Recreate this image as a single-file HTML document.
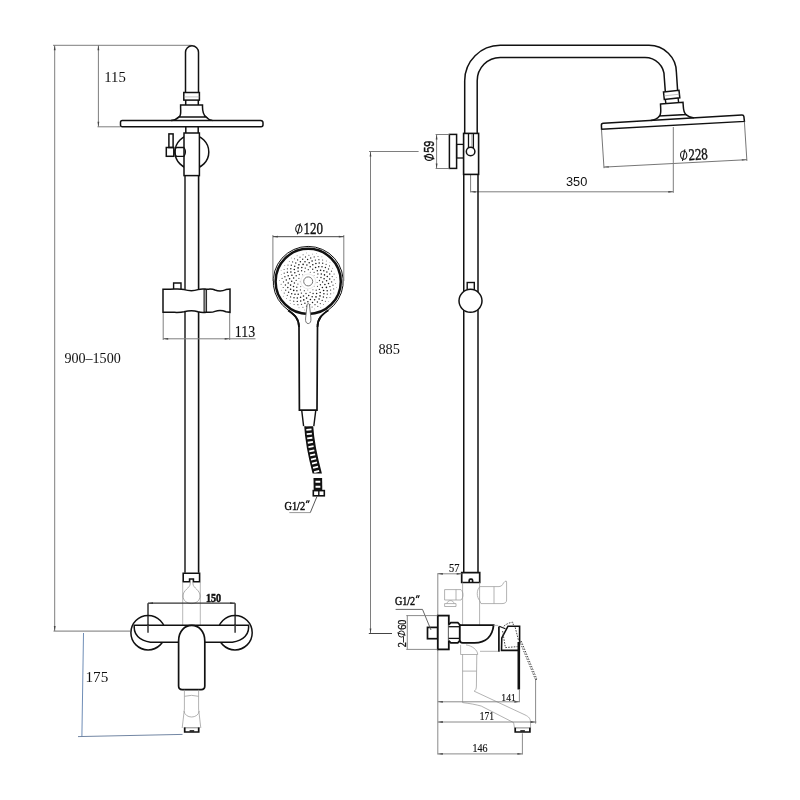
<!DOCTYPE html>
<html><head><meta charset="utf-8"><title>Shower column drawing</title>
<style>
html,body{margin:0;padding:0;background:#fff;}
body{width:800px;height:800px;overflow:hidden;font-family:"Liberation Serif",serif;}
svg{display:block;}
svg text{filter:grayscale(1);}
</style></head>
<body>
<svg width="800" height="800" viewBox="0 0 800 800" stroke-linecap="butt" stroke-linejoin="miter">
<rect x="0" y="0" width="800" height="800" fill="#fff"/>
<line x1="53" y1="45.3" x2="191.5" y2="45.3" stroke="#7e7e7e" stroke-width="1" />
<line x1="54.7" y1="45.3" x2="54.7" y2="631" stroke="#7e7e7e" stroke-width="1" />
<path d="M54.70,45.30 L55.60,50.30 L53.80,50.30 Z" fill="#444" stroke="none"/>
<path d="M54.70,631.00 L53.80,626.00 L55.60,626.00 Z" fill="#444" stroke="none"/>
<line x1="98.4" y1="45.3" x2="98.4" y2="126.8" stroke="#7e7e7e" stroke-width="1" />
<path d="M98.40,45.30 L99.30,50.30 L97.50,50.30 Z" fill="#444" stroke="none"/>
<path d="M98.40,126.80 L97.50,121.80 L99.30,121.80 Z" fill="#444" stroke="none"/>
<line x1="97.5" y1="126.8" x2="120.5" y2="126.8" stroke="#7e7e7e" stroke-width="1" />
<line x1="53.5" y1="631.1" x2="130.2" y2="631.1" stroke="#666" stroke-width="0.9" />
<path d="M185.5,92.5 V52.3 A6.5,6.5 0 0 1 198.5,52.3 V92.5" stroke="#111" stroke-width="1.5" fill="none" />
<rect x="183.8" y="92.5" width="15.6" height="7.6" stroke="#111" stroke-width="1.5" fill="none" />
<line x1="183.8" y1="96.9" x2="199.4" y2="96.9" stroke="#999" stroke-width="0.6" />
<path d="M185.7,100.1 V105 M198.3,100.1 V105" stroke="#111" stroke-width="1.5" fill="none" />
<path d="M180.6,105 H202.5 V107 C202.5,112 203.6,115 206,116.9 H179.1 C181.5,115 180.6,112 180.6,107 Z" stroke="#111" stroke-width="1.5" fill="none" />
<path d="M179.1,116.9 C177,119 175,120.3 171,120.5 M206,116.9 C208,119 210,120.3 212.4,120.5" stroke="#111" stroke-width="1.5" fill="none" />
<path d="M122.3,120.5 H260.8 A2.2,2.2 0 0 1 263,122.7 V124.8 A2,2 0 0 1 261,126.8 H122.3 A1.8,1.8 0 0 1 120.5,125 V122.3 A1.8,1.8 0 0 1 122.3,120.5 Z" stroke="#111" stroke-width="1.5" fill="none" />
<path d="M185.8,126.8 V133 M198.2,126.8 V133" stroke="#111" stroke-width="1.5" fill="none" />
<circle cx="191.9" cy="151.9" r="16.9" stroke="#111" stroke-width="1.5" fill="none" />
<rect x="184" y="133" width="15.4" height="42.6" stroke="#111" stroke-width="1.5" fill="#fff" />
<rect x="168.9" y="133.9" width="4.2" height="13.6" stroke="#111" stroke-width="1.5" fill="none" />
<rect x="166.3" y="147.5" width="7.5" height="8.8" stroke="#111" stroke-width="1.5" fill="none" />
<path d="M176.2,147.5 H184 M176.2,156.3 H184 M176.2,147.5 C174.6,150 174.6,153.8 176.2,156.3 M184,147.5 C185.6,150 185.6,153.8 184,156.3" stroke="#111" stroke-width="1.3" fill="none" />
<line x1="185.0" y1="175.6" x2="185.0" y2="572.8" stroke="#111" stroke-width="1.4" />
<line x1="198.6" y1="175.6" x2="198.6" y2="572.8" stroke="#111" stroke-width="1.6" />
<path d="M163,289.2 H170 C176,289.2 180,288.6 184,289.6 C189,291 194,291 198,289.6 C202,288.4 204,289 206.5,289.2 C210,289.2 212,288.6 215,290 C219,291.6 223,291 226,289.6 L230,289 V312.3 L226,311.8 C223,310.4 219,309.8 215,311.4 C212,312.8 210,312.2 206.5,312.3 C204,312.4 202,313 198,311.8 C194,310.4 189,310.4 184,311.8 C180,312.8 176,312.3 170,312.3 H163 Z" stroke="#111" stroke-width="1.5" fill="#fff" />
<rect x="204" y="289.6" width="2.6" height="22.4" stroke="#111" stroke-width="0.9" fill="#999" />
<path d="M173.6,289 V283 H181 V289" stroke="#111" stroke-width="1.4" fill="none" />
<line x1="163.2" y1="313" x2="163.2" y2="340" stroke="#7e7e7e" stroke-width="1" />
<line x1="229.7" y1="313" x2="229.7" y2="340" stroke="#7e7e7e" stroke-width="1" />
<line x1="163.2" y1="338.8" x2="255.5" y2="338.8" stroke="#7e7e7e" stroke-width="1" />
<path d="M163.20,338.80 L168.20,337.90 L168.20,339.70 Z" fill="#444" stroke="none"/>
<path d="M229.70,338.80 L224.70,339.70 L224.70,337.90 Z" fill="#444" stroke="none"/>
<path d="M183.2,573.2 H199.6 V581.7 H193.4 V579 H189.6 V581.7 H183.2 Z" stroke="#111" stroke-width="1.6" fill="none" />
<line x1="182.7" y1="582" x2="182.7" y2="625.6" stroke="#9a9a9a" stroke-width="0.7" />
<line x1="200.3" y1="582" x2="200.3" y2="625.6" stroke="#9a9a9a" stroke-width="0.7" />
<path d="M190.2,582 V584 C190,588 183,590 183,596 C183,600.5 187,603.6 191.5,603.6 C196,603.6 200.1,600.5 200.1,596 C200.1,590 193.2,588 193,584 V582" stroke="#8a8a8a" stroke-width="0.7" fill="none" />
<line x1="148" y1="603.2" x2="235.1" y2="603.2" stroke="#333" stroke-width="1.3" />
<line x1="148" y1="603.2" x2="148" y2="632.8" stroke="#333" stroke-width="1.5" />
<line x1="235.1" y1="603.2" x2="235.1" y2="632.8" stroke="#333" stroke-width="1.5" />
<path d="M148.00,603.20 L153.00,602.30 L153.00,604.10 Z" fill="#333" stroke="none"/>
<path d="M235.10,603.20 L230.10,604.10 L230.10,602.30 Z" fill="#333" stroke="none"/>
<circle cx="148.1" cy="632.7" r="17.2" stroke="#111" stroke-width="1.5" fill="none" />
<circle cx="235.0" cy="632.7" r="17.2" stroke="#111" stroke-width="1.5" fill="none" />
<path d="M134.2,625.25 H248.6 V627.5 C248.6,636.5 240,642.3 228,642.3 H154.8 C142.8,642.3 134.2,636.5 134.2,627.5 Z" stroke="#111" stroke-width="1.5" fill="#fff" />
<line x1="148" y1="624" x2="148" y2="632.8" stroke="#333" stroke-width="1.5" />
<line x1="235.1" y1="624" x2="235.1" y2="632.8" stroke="#333" stroke-width="1.5" />
<path d="M178.6,641 C178.6,620.2 204.8,620.2 204.8,641 V686 Q204.8,689.6 201.2,689.6 H182.2 Q178.6,689.6 178.6,686 Z" stroke="#111" stroke-width="1.7" fill="#fff" />
<path d="M184.4,689.8 V709 L182.2,728 M198.6,689.8 V709 L200.8,728" stroke="#9a9a9a" stroke-width="0.75" fill="none" />
<path d="M184.6,696.3 Q191.5,694.4 198.5,696.3 M184,711 C185,719 198.2,719 199.2,711" stroke="#9a9a9a" stroke-width="0.75" fill="none" />
<line x1="183.8" y1="727.8" x2="199.8" y2="727.8" stroke="#666" stroke-width="0.8" />
<path d="M184.7,727.6 V732 H198.7 V727.6" stroke="#111" stroke-width="1.7" fill="none" />
<rect x="189.6" y="730.2" width="4.6" height="1.4" stroke="none" stroke-width="0" fill="#111" />
<line x1="83.5" y1="633" x2="81.9" y2="736.5" stroke="#6787b2" stroke-width="0.95" />
<line x1="78" y1="736.6" x2="182.5" y2="734.4" stroke="#6a7f9e" stroke-width="0.95" />
<path d="M288.2,310.2 C294,314.6 299,318 299,327 L299.4,410.2 H317 L317.5,327 C317.5,318 322.4,314.6 328.2,310.2" stroke="#111" stroke-width="1.7" fill="#fff" />
<circle cx="308.2" cy="281.4" r="34.6" stroke="none" stroke-width="0" fill="#fff" />
<path d="M288.3,310.2 A35,35 0 1 1 328.1,310.2" stroke="#111" stroke-width="1.0" fill="none" />
<path d="M288.2,310.2 C294,314.6 299,318 299,327 M317.5,327 C317.5,318 322.4,314.6 328.2,310.2" stroke="#111" stroke-width="1.7" fill="none" />
<circle cx="308.2" cy="281.4" r="32.6" stroke="#111" stroke-width="2.5" fill="none" />
<g fill="#151515" stroke="none"><circle cx="314.2" cy="286.4" r="0.40" fill-opacity="0.70"/><circle cx="300.2" cy="281.7" r="0.44" fill-opacity="0.71"/><circle cx="314.1" cy="275.6" r="0.46" fill-opacity="0.72"/><circle cx="307.8" cy="289.9" r="0.48" fill-opacity="0.73"/><circle cx="302.6" cy="274.7" r="0.50" fill-opacity="0.74"/><circle cx="317.1" cy="282.6" r="0.51" fill-opacity="0.75"/><circle cx="300.7" cy="286.6" r="0.53" fill-opacity="0.76"/><circle cx="310.3" cy="272.3" r="0.54" fill-opacity="0.77"/><circle cx="312.9" cy="289.7" r="0.55" fill-opacity="0.78"/><circle cx="298.9" cy="278.4" r="0.56" fill-opacity="0.79"/><circle cx="317.2" cy="277.2" r="0.57" fill-opacity="0.80"/><circle cx="304.3" cy="290.7" r="0.58" fill-opacity="0.81"/><circle cx="304.7" cy="271.7" r="0.59" fill-opacity="0.81"/><circle cx="317.5" cy="286.3" r="0.60" fill-opacity="0.82"/><circle cx="297.9" cy="284.1" r="0.61" fill-opacity="0.83"/><circle cx="314.1" cy="272.3" r="0.62" fill-opacity="0.84"/><circle cx="310.1" cy="292.3" r="0.63" fill-opacity="0.84"/><circle cx="299.3" cy="274.5" r="0.63" fill-opacity="0.85"/><circle cx="319.5" cy="280.5" r="0.64" fill-opacity="0.86"/><circle cx="300.4" cy="289.9" r="0.65" fill-opacity="0.86"/><circle cx="308.3" cy="269.7" r="0.65" fill-opacity="0.87"/><circle cx="316.2" cy="290.2" r="0.66" fill-opacity="0.88"/><circle cx="296.2" cy="280.3" r="0.67" fill-opacity="0.88"/><circle cx="317.9" cy="274.0" r="0.67" fill-opacity="0.89"/><circle cx="306.0" cy="293.5" r="0.68" fill-opacity="0.89"/><circle cx="301.6" cy="270.8" r="0.68" fill-opacity="0.90"/><circle cx="320.4" cy="284.7" r="0.69" fill-opacity="0.90"/><circle cx="296.8" cy="287.2" r="0.69" fill-opacity="0.91"/><circle cx="312.7" cy="269.3" r="0.70" fill-opacity="0.91"/><circle cx="313.1" cy="293.5" r="0.70" fill-opacity="0.92"/><circle cx="296.2" cy="275.7" r="0.71" fill-opacity="0.92"/><circle cx="321.0" cy="277.5" r="0.71" fill-opacity="0.93"/><circle cx="301.4" cy="293.1" r="0.72" fill-opacity="0.93"/><circle cx="305.3" cy="268.1" r="0.72" fill-opacity="0.94"/><circle cx="319.4" cy="289.4" r="0.72" fill-opacity="0.94"/><circle cx="294.4" cy="283.1" r="0.73" fill-opacity="0.94"/><circle cx="317.3" cy="270.7" r="0.73" fill-opacity="0.95"/><circle cx="308.7" cy="295.6" r="0.73" fill-opacity="0.95"/><circle cx="298.1" cy="271.2" r="0.74" fill-opacity="0.95"/><circle cx="322.6" cy="282.1" r="0.74" fill-opacity="0.96"/><circle cx="296.9" cy="290.7" r="0.74" fill-opacity="0.96"/><circle cx="310.2" cy="266.8" r="0.75" fill-opacity="0.96"/><circle cx="316.6" cy="293.6" r="0.75" fill-opacity="0.97"/><circle cx="293.6" cy="278.0" r="0.75" fill-opacity="0.97"/><circle cx="321.3" cy="274.0" r="0.75" fill-opacity="0.97"/><circle cx="303.5" cy="295.9" r="0.76" fill-opacity="0.97"/><circle cx="301.8" cy="267.4" r="0.76" fill-opacity="0.98"/><circle cx="322.4" cy="287.4" r="0.76" fill-opacity="0.98"/><circle cx="293.5" cy="286.6" r="0.76" fill-opacity="0.98"/><circle cx="315.6" cy="267.5" r="0.76" fill-opacity="0.98"/><circle cx="312.2" cy="296.7" r="0.77" fill-opacity="0.98"/><circle cx="294.8" cy="272.7" r="0.77" fill-opacity="0.99"/><circle cx="324.1" cy="278.8" r="0.77" fill-opacity="0.99"/><circle cx="298.2" cy="294.2" r="0.77" fill-opacity="0.99"/><circle cx="306.9" cy="265.1" r="0.77" fill-opacity="0.99"/><circle cx="320.2" cy="292.6" r="0.77" fill-opacity="0.99"/><circle cx="291.7" cy="281.2" r="0.77" fill-opacity="0.99"/><circle cx="320.6" cy="270.3" r="0.77" fill-opacity="0.99"/><circle cx="306.6" cy="298.1" r="0.78" fill-opacity="0.99"/><circle cx="298.1" cy="267.9" r="0.78" fill-opacity="1.00"/><circle cx="324.9" cy="284.5" r="0.78" fill-opacity="1.00"/><circle cx="293.7" cy="290.4" r="0.78" fill-opacity="1.00"/><circle cx="312.8" cy="264.8" r="0.78" fill-opacity="1.00"/><circle cx="316.0" cy="296.9" r="0.78" fill-opacity="1.00"/><circle cx="291.9" cy="275.3" r="0.78" fill-opacity="1.00"/><circle cx="324.5" cy="274.9" r="0.78" fill-opacity="1.00"/><circle cx="300.6" cy="297.3" r="0.78" fill-opacity="1.00"/><circle cx="303.1" cy="264.4" r="0.78" fill-opacity="1.00"/><circle cx="323.6" cy="290.5" r="0.78" fill-opacity="1.00"/><circle cx="290.6" cy="285.1" r="0.78" fill-opacity="1.00"/><circle cx="318.7" cy="266.7" r="0.78" fill-opacity="1.00"/><circle cx="310.4" cy="299.5" r="0.78" fill-opacity="1.00"/><circle cx="294.3" cy="269.5" r="0.78" fill-opacity="1.00"/><circle cx="326.6" cy="280.8" r="0.78" fill-opacity="1.00"/><circle cx="295.0" cy="294.3" r="0.78" fill-opacity="1.00"/><circle cx="309.2" cy="262.8" r="0.78" fill-opacity="1.00"/><circle cx="320.0" cy="295.9" r="0.78" fill-opacity="1.00"/><circle cx="289.6" cy="278.7" r="0.78" fill-opacity="1.00"/><circle cx="323.8" cy="270.8" r="0.78" fill-opacity="1.00"/><circle cx="303.8" cy="299.9" r="0.78" fill-opacity="1.00"/><circle cx="298.9" cy="264.7" r="0.78" fill-opacity="1.00"/><circle cx="326.4" cy="287.4" r="0.78" fill-opacity="0.99"/><circle cx="290.6" cy="289.3" r="0.77" fill-opacity="0.99"/><circle cx="315.9" cy="263.6" r="0.77" fill-opacity="0.99"/><circle cx="314.6" cy="299.8" r="0.77" fill-opacity="0.99"/><circle cx="290.9" cy="272.1" r="0.77" fill-opacity="0.99"/><circle cx="327.3" cy="276.6" r="0.77" fill-opacity="0.99"/><circle cx="297.3" cy="297.9" r="0.77" fill-opacity="0.99"/><circle cx="305.0" cy="261.8" r="0.77" fill-opacity="0.99"/><circle cx="323.9" cy="293.8" r="0.77" fill-opacity="0.99"/><circle cx="288.2" cy="282.9" r="0.77" fill-opacity="0.98"/><circle cx="322.0" cy="266.7" r="0.76" fill-opacity="0.98"/><circle cx="307.9" cy="301.7" r="0.76" fill-opacity="0.98"/><circle cx="294.7" cy="266.2" r="0.76" fill-opacity="0.98"/><circle cx="328.5" cy="283.5" r="0.76" fill-opacity="0.98"/><circle cx="291.7" cy="293.7" r="0.76" fill-opacity="0.98"/><circle cx="312.1" cy="261.1" r="0.76" fill-opacity="0.98"/><circle cx="319.1" cy="299.1" r="0.76" fill-opacity="0.97"/><circle cx="288.2" cy="275.7" r="0.75" fill-opacity="0.97"/><circle cx="326.9" cy="272.0" r="0.75" fill-opacity="0.97"/><circle cx="300.7" cy="301.0" r="0.75" fill-opacity="0.97"/><circle cx="300.4" cy="261.8" r="0.75" fill-opacity="0.97"/><circle cx="327.2" cy="290.7" r="0.75" fill-opacity="0.96"/><circle cx="287.8" cy="287.5" r="0.75" fill-opacity="0.96"/><circle cx="319.2" cy="263.1" r="0.74" fill-opacity="0.96"/><circle cx="312.5" cy="302.4" r="0.74" fill-opacity="0.96"/><circle cx="290.8" cy="268.7" r="0.74" fill-opacity="0.96"/><circle cx="329.7" cy="278.9" r="0.74" fill-opacity="0.95"/><circle cx="294.0" cy="297.8" r="0.74" fill-opacity="0.95"/><circle cx="307.6" cy="259.6" r="0.73" fill-opacity="0.95"/><circle cx="323.4" cy="297.1" r="0.73" fill-opacity="0.95"/><circle cx="286.3" cy="280.1" r="0.73" fill-opacity="0.95"/><circle cx="325.4" cy="267.5" r="0.73" fill-opacity="0.94"/><circle cx="304.9" cy="303.3" r="0.73" fill-opacity="0.94"/><circle cx="295.8" cy="263.0" r="0.72" fill-opacity="0.94"/><circle cx="329.9" cy="286.6" r="0.72" fill-opacity="0.94"/><circle cx="288.6" cy="292.2" r="0.72" fill-opacity="0.93"/><circle cx="315.4" cy="260.1" r="0.72" fill-opacity="0.93"/><circle cx="317.4" cy="302.0" r="0.71" fill-opacity="0.93"/><circle cx="287.4" cy="272.3" r="0.71" fill-opacity="0.93"/><circle cx="329.7" cy="274.0" r="0.71" fill-opacity="0.92"/><circle cx="297.3" cy="301.4" r="0.71" fill-opacity="0.92"/><circle cx="302.7" cy="259.2" r="0.70" fill-opacity="0.92"/><circle cx="327.3" cy="294.1" r="0.70" fill-opacity="0.92"/><circle cx="285.4" cy="285.0" r="0.70" fill-opacity="0.91"/><circle cx="322.7" cy="263.3" r="0.70" fill-opacity="0.91"/><circle cx="309.8" cy="304.6" r="0.69" fill-opacity="0.91"/><circle cx="291.3" cy="265.3" r="0.69" fill-opacity="0.90"/><circle cx="331.6" cy="281.9" r="0.69" fill-opacity="0.90"/><circle cx="290.6" cy="296.9" r="0.68" fill-opacity="0.90"/><circle cx="310.7" cy="258.0" r="0.68" fill-opacity="0.90"/><circle cx="322.2" cy="300.4" r="0.68" fill-opacity="0.89"/><circle cx="284.9" cy="276.8" r="0.68" fill-opacity="0.89"/><circle cx="328.5" cy="269.0" r="0.67" fill-opacity="0.89"/><circle cx="301.5" cy="304.3" r="0.67" fill-opacity="0.88"/><circle cx="297.6" cy="259.9" r="0.67" fill-opacity="0.88"/><circle cx="330.6" cy="290.1" r="0.66" fill-opacity="0.88"/><circle cx="285.7" cy="290.2" r="0.66" fill-opacity="0.88"/><circle cx="318.9" cy="259.7" r="0.66" fill-opacity="0.87"/><circle cx="315.0" cy="304.7" r="0.66" fill-opacity="0.87"/><circle cx="287.4" cy="268.8" r="0.65" fill-opacity="0.87"/><circle cx="332.2" cy="276.6" r="0.65" fill-opacity="0.86"/><circle cx="293.7" cy="301.2" r="0.65" fill-opacity="0.86"/><circle cx="305.5" cy="257.0" r="0.64" fill-opacity="0.86"/><circle cx="326.7" cy="297.7" r="0.64" fill-opacity="0.85"/><circle cx="283.5" cy="281.9" r="0.64" fill-opacity="0.85"/><circle cx="326.1" cy="264.3" r="0.63" fill-opacity="0.85"/><circle cx="306.5" cy="306.2" r="0.63" fill-opacity="0.85"/><circle cx="292.6" cy="261.9" r="0.63" fill-opacity="0.84"/><circle cx="333.0" cy="285.2" r="0.62" fill-opacity="0.84"/><circle cx="287.3" cy="295.3" r="0.62" fill-opacity="0.84"/><circle cx="314.2" cy="256.9" r="0.62" fill-opacity="0.83"/><circle cx="320.3" cy="303.6" r="0.61" fill-opacity="0.83"/><circle cx="284.2" cy="273.2" r="0.61" fill-opacity="0.83"/><circle cx="331.5" cy="271.2" r="0.60" fill-opacity="0.82"/><circle cx="297.9" cy="304.7" r="0.60" fill-opacity="0.82"/><circle cx="300.0" cy="257.2" r="0.60" fill-opacity="0.82"/><circle cx="330.7" cy="293.8" r="0.59" fill-opacity="0.81"/><circle cx="283.2" cy="287.5" r="0.59" fill-opacity="0.81"/><circle cx="322.6" cy="260.0" r="0.59" fill-opacity="0.81"/><circle cx="312.1" cy="307.0" r="0.58" fill-opacity="0.80"/><circle cx="288.0" cy="265.1" r="0.58" fill-opacity="0.80"/><circle cx="334.2" cy="279.8" r="0.57" fill-opacity="0.80"/><circle cx="290.1" cy="300.2" r="0.57" fill-opacity="0.80"/><circle cx="308.9" cy="255.2" r="0.57" fill-opacity="0.79"/><circle cx="325.4" cy="301.2" r="0.56" fill-opacity="0.79"/><circle cx="282.1" cy="278.4" r="0.56" fill-opacity="0.79"/><circle cx="329.5" cy="265.9" r="0.55" fill-opacity="0.78"/><circle cx="302.9" cy="307.3" r="0.55" fill-opacity="0.78"/><circle cx="294.5" cy="258.7" r="0.55" fill-opacity="0.78"/><circle cx="333.7" cy="288.9" r="0.54" fill-opacity="0.77"/><circle cx="284.2" cy="293.1" r="0.54" fill-opacity="0.77"/><circle cx="318.0" cy="256.5" r="0.53" fill-opacity="0.77"/><circle cx="317.8" cy="306.4" r="0.53" fill-opacity="0.76"/><circle cx="284.1" cy="269.4" r="0.52" fill-opacity="0.76"/><circle cx="334.1" cy="274.0" r="0.52" fill-opacity="0.76"/><circle cx="294.1" cy="304.4" r="0.51" fill-opacity="0.75"/><circle cx="303.1" cy="254.8" r="0.51" fill-opacity="0.75"/><circle cx="330.0" cy="297.6" r="0.50" fill-opacity="0.75"/><circle cx="281.1" cy="284.2" r="0.50" fill-opacity="0.74"/><circle cx="326.3" cy="261.0" r="0.49" fill-opacity="0.74"/><circle cx="308.6" cy="308.8" r="0.49" fill-opacity="0.74"/><circle cx="289.3" cy="261.5" r="0.48" fill-opacity="0.73"/><circle cx="335.6" cy="283.4" r="0.48" fill-opacity="0.73"/><circle cx="286.6" cy="298.5" r="0.47" fill-opacity="0.73"/><circle cx="312.6" cy="254.1" r="0.47" fill-opacity="0.72"/><circle cx="323.4" cy="304.5" r="0.46" fill-opacity="0.72"/><circle cx="281.3" cy="274.6" r="0.45" fill-opacity="0.72"/><circle cx="332.7" cy="268.2" r="0.45" fill-opacity="0.72"/><circle cx="299.0" cy="307.8" r="0.44" fill-opacity="0.71"/><circle cx="297.1" cy="255.7" r="0.43" fill-opacity="0.71"/><circle cx="333.8" cy="292.9" r="0.42" fill-opacity="0.71"/><circle cx="281.5" cy="290.2" r="0.41" fill-opacity="0.70"/><circle cx="321.9" cy="256.8" r="0.40" fill-opacity="0.70"/><circle cx="314.7" cy="308.9" r="0.40" fill-opacity="0.70"/><circle cx="284.8" cy="265.5" r="0.40" fill-opacity="0.70"/><circle cx="336.3" cy="277.3" r="0.40" fill-opacity="0.70"/><circle cx="290.2" cy="303.5" r="0.40" fill-opacity="0.70"/><circle cx="306.6" cy="252.9" r="0.40" fill-opacity="0.70"/><circle cx="328.7" cy="301.3" r="0.40" fill-opacity="0.70"/><circle cx="279.6" cy="280.5" r="0.40" fill-opacity="0.70"/><circle cx="330.0" cy="262.6" r="0.40" fill-opacity="0.70"/><circle cx="304.8" cy="310.0" r="0.40" fill-opacity="0.70"/><circle cx="291.3" cy="258.0" r="0.40" fill-opacity="0.70"/><circle cx="336.5" cy="287.3" r="0.40" fill-opacity="0.70"/><circle cx="283.3" cy="296.2" r="0.40" fill-opacity="0.70"/><circle cx="316.6" cy="253.6" r="0.40" fill-opacity="0.70"/><circle cx="320.8" cy="307.6" r="0.40" fill-opacity="0.70"/><circle cx="281.1" cy="270.6" r="0.40" fill-opacity="0.70"/></g>
<circle cx="308.2" cy="281.4" r="7.4" stroke="#e2e2e2" stroke-width="0.7" fill="none" />
<circle cx="308.2" cy="281.4" r="4.5" stroke="#777" stroke-width="1.0" fill="#fff" />
<path d="M307.2,304.2 Q308.3,303 309.4,304.2 L310.9,318 Q311.3,323.4 308.2,323.6 Q305.1,323.4 305.6,318 Z" stroke="#666" stroke-width="0.9" fill="#fff" />
<path d="M301.7,410.2 L303.6,426.2 M315.8,410.2 L313.8,426.2" stroke="#111" stroke-width="1.4" fill="none" />
<clipPath id="hc"><rect x="295" y="426.2" width="40" height="47.4"/></clipPath>
<g clip-path="url(#hc)"><path d="M308.6,424 C309.4,443 313,458 317.9,476" stroke="#111" stroke-width="9" fill="none"/>
<path d="M308.6,424 C309.4,443 313,458 317.9,476" stroke="#fff" stroke-width="5.2" fill="none" stroke-dasharray="1.8 2.5" stroke-dashoffset="-0.3"/></g>
<path d="M317.8,478 L318,490.4" stroke="#111" stroke-width="8.6" fill="none"/>
<path d="M317.8,478 L318,490.4" stroke="#fff" stroke-width="4.8" fill="none" stroke-dasharray="2 3.1" stroke-dashoffset="-2.7"/>
<rect x="313.3" y="490.6" width="11" height="5.2" stroke="#111" stroke-width="1.6" fill="#fff" />
<line x1="318.8" y1="490.6" x2="318.8" y2="495.8" stroke="#111" stroke-width="1.4" />
<line x1="310.3" y1="512.6" x2="289.3" y2="512.6" stroke="#999" stroke-width="1.0" />
<path d="M317,496.4 L310.3,512.6" stroke="#444" stroke-width="0.9" fill="none" />
<line x1="272.9" y1="235" x2="272.9" y2="281" stroke="#7e7e7e" stroke-width="1" />
<line x1="343.8" y1="235" x2="343.8" y2="281" stroke="#7e7e7e" stroke-width="1" />
<line x1="272.9" y1="236.7" x2="343.8" y2="236.7" stroke="#444" stroke-width="1.0" />
<path d="M272.90,236.70 L277.90,235.80 L277.90,237.60 Z" fill="#444" stroke="none"/>
<path d="M343.80,236.70 L338.80,237.60 L338.80,235.80 Z" fill="#444" stroke="none"/>
<path d="M464.7,133 V80.8 A35.5,35.5 0 0 1 500.2,45.3 H649 A27.4,27 0 0 1 676.4,72.3 L677.6,90.4" stroke="#111" stroke-width="1.5" fill="none" />
<path d="M477.2,133 V80.8 A23,23.3 0 0 1 500.2,57.5 H645 A19.2,19 0 0 1 664.2,76.5 L665.3,91.4" stroke="#111" stroke-width="1.5" fill="none" />
<path d="M663.5,92 L679,90.3 L679.8,97.8 L664.3,99.5 Z" stroke="#111" stroke-width="1.5" fill="#fff" />
<path d="M663.9,95.9 L679.4,94.2" stroke="#999" stroke-width="0.6" fill="none" />
<path d="M665.3,99.4 L665.9,103.6 M678.1,98 L678.6,102.5" stroke="#111" stroke-width="1.4" fill="none" />
<path d="M660.5,104.1 L683,102.3 L683.3,106.5 C683.5,110.5 684.3,113 685.9,114.6 L659.6,116 C661,114 660.9,111.5 660.7,108.3 Z" stroke="#111" stroke-width="1.5" fill="#fff" />
<path d="M659.6,116 C657.5,118.4 655,120.2 650.8,120.5 M685.9,114.6 C688,116.4 690.5,117.7 694.1,117.9" stroke="#111" stroke-width="1.4" fill="none" />
<path d="M603.4,123.3 L741.8,115.0 Q743.7,114.9 743.9,116.7 L744.4,121.4 L601.6,129.2 L601.4,125.2 Q601.3,123.45 603.4,123.3 Z" stroke="#111" stroke-width="1.5" fill="none" />
<line x1="601.5" y1="129.6" x2="604" y2="168.2" stroke="#666" stroke-width="0.9" />
<line x1="744.4" y1="121.6" x2="746.9" y2="160.9" stroke="#666" stroke-width="0.9" />
<line x1="603.9" y1="167.1" x2="746.9" y2="159.7" stroke="#666" stroke-width="0.9" />
<path d="M603.80,167.10 L608.75,165.94 L608.84,167.74 Z" fill="#666" stroke="none"/>
<path d="M746.80,159.70 L741.85,160.86 L741.76,159.06 Z" fill="#666" stroke="none"/>
<line x1="470.6" y1="175" x2="470.6" y2="192.4" stroke="#7e7e7e" stroke-width="1" />
<line x1="673.3" y1="127" x2="673.3" y2="192.8" stroke="#7e7e7e" stroke-width="1" />
<line x1="470.6" y1="191.8" x2="673.3" y2="191.8" stroke="#7e7e7e" stroke-width="1" />
<path d="M470.60,191.80 L475.60,190.90 L475.60,192.70 Z" fill="#444" stroke="none"/>
<path d="M673.30,191.80 L668.30,192.70 L668.30,190.90 Z" fill="#444" stroke="none"/>
<rect x="449.4" y="134.4" width="7.2" height="34" stroke="#111" stroke-width="1.5" fill="none" />
<rect x="456.6" y="144.4" width="7" height="13.6" stroke="#111" stroke-width="1.3" fill="none" />
<rect x="463.6" y="133.4" width="15" height="41" stroke="#111" stroke-width="1.6" fill="#fff" />
<path d="M468.5,134 V148 M473.4,134 V148" stroke="#111" stroke-width="1.3" fill="none" />
<line x1="471.9" y1="134" x2="471.9" y2="147.5" stroke="#888" stroke-width="0.8" />
<circle cx="470.6" cy="151.5" r="4.3" stroke="#111" stroke-width="1.5" fill="#fff" />
<line x1="435.6" y1="134.5" x2="449.4" y2="134.5" stroke="#7e7e7e" stroke-width="1" />
<line x1="435.6" y1="168.5" x2="449.4" y2="168.5" stroke="#7e7e7e" stroke-width="1" />
<line x1="436.6" y1="134.5" x2="436.6" y2="168.5" stroke="#7e7e7e" stroke-width="1" />
<path d="M436.60,134.50 L437.50,139.50 L435.70,139.50 Z" fill="#444" stroke="none"/>
<path d="M436.60,168.50 L435.70,163.50 L437.50,163.50 Z" fill="#444" stroke="none"/>
<line x1="463.75" y1="174.4" x2="463.75" y2="572.7" stroke="#111" stroke-width="1.5" />
<line x1="478.0" y1="174.4" x2="478.0" y2="572.7" stroke="#111" stroke-width="1.5" />
<rect x="467.2" y="282.5" width="7.1" height="7.5" stroke="#111" stroke-width="1.4" fill="#fff" />
<circle cx="470.5" cy="300.8" r="11.5" stroke="#111" stroke-width="1.5" fill="#fff" />
<line x1="369" y1="151.5" x2="418.6" y2="151.5" stroke="#7e7e7e" stroke-width="1" />
<line x1="370.5" y1="151.5" x2="370.5" y2="633.5" stroke="#7e7e7e" stroke-width="1" />
<path d="M370.50,151.50 L371.40,156.50 L369.60,156.50 Z" fill="#444" stroke="none"/>
<path d="M370.50,633.50 L369.60,628.50 L371.40,628.50 Z" fill="#444" stroke="none"/>
<line x1="368.8" y1="633.5" x2="392" y2="633.5" stroke="#444" stroke-width="1.0" />
<path d="M461.7,572.7 H479.7 V582.5 H461.7 Z M472.6,582.5 V580.4 Q472.6,579.2 471.4,579.2 H470.4 Q469.2,579.2 469.2,580.4 V582.5" stroke="#111" stroke-width="1.7" fill="none" />
<line x1="462.6" y1="582.5" x2="462.6" y2="625" stroke="#9a9a9a" stroke-width="0.75" />
<line x1="479.6" y1="582.5" x2="479.6" y2="625" stroke="#9a9a9a" stroke-width="0.75" />
<path d="M479.6,587 C476.5,590 476.5,597 479.6,600.5 L481,603.6 H502 Q506.6,603.6 506.6,600 V582 Q506.6,580.4 505,581.4 C502.5,583 503,586.6 499,586.6 H479.6" stroke="#9a9a9a" stroke-width="0.75" fill="none" />
<line x1="494" y1="586.6" x2="494" y2="603.6" stroke="#9a9a9a" stroke-width="0.75" />
<path d="M444.6,589.6 H461 C463.6,592 463.6,597.6 461,600 H444.6 Z" stroke="#9a9a9a" stroke-width="0.75" fill="none" />
<line x1="456" y1="589.6" x2="456" y2="600" stroke="#9a9a9a" stroke-width="0.75" />
<path d="M444.6,603.6 H456 V606.5 H444.6 Z M447,603.6 C447.4,599.6 453.6,599.6 454,603.6" stroke="#9a9a9a" stroke-width="0.75" fill="none" />
<line x1="437.8" y1="573.2" x2="437.8" y2="754.5" stroke="#7e7e7e" stroke-width="0.9" />
<line x1="437.8" y1="573.8" x2="461.7" y2="573.8" stroke="#7e7e7e" stroke-width="0.9" />
<path d="M437.80,573.80 L442.80,572.90 L442.80,574.70 Z" fill="#444" stroke="none"/>
<path d="M461.70,573.80 L456.70,574.70 L456.70,572.90 Z" fill="#444" stroke="none"/>
<path d="M460.6,644.9 V654.5 H477.7 C477.7,650 472,645.6 466,644.9" stroke="#9a9a9a" stroke-width="0.75" fill="none" />
<path d="M462.6,654.5 V702.6 C470,703.5 476,704.6 481.3,706.1 L513.6,722.6 L514.5,728" stroke="#9a9a9a" stroke-width="0.75" fill="none" />
<path d="M476.8,654.5 L476.4,686 C476.4,689 475.4,690.6 474.2,691.2 L525,714.9 C529,716.8 530.4,718.6 530.5,722 L530.6,728" stroke="#9a9a9a" stroke-width="0.75" fill="none" />
<line x1="462.6" y1="671.1" x2="476.5" y2="671.1" stroke="#9a9a9a" stroke-width="0.75" />
<line x1="514.5" y1="727.9" x2="530.6" y2="727.9" stroke="#666" stroke-width="0.8" />
<path d="M515.2,727.8 V732 H529.9 V727.8" stroke="#111" stroke-width="1.7" fill="none" />
<rect x="520.3" y="730.2" width="4.6" height="1.4" stroke="none" stroke-width="0" fill="#111" />
<rect x="427.5" y="627.4" width="10.2" height="11.3" stroke="#111" stroke-width="1.7" fill="none" />
<rect x="437.8" y="615.6" width="11" height="33.8" stroke="#111" stroke-width="1.8" fill="#fff" />
<path d="M448.6,624.8 L450.8,622.6 H457.8 L459.8,624.8 V640.6 L457.8,642.8 H450.8 L448.6,640.6" stroke="#111" stroke-width="1.7" fill="#fff" />
<line x1="448.6" y1="626.7" x2="459.8" y2="626.7" stroke="#111" stroke-width="1.3" />
<line x1="448.6" y1="638.4" x2="459.8" y2="638.4" stroke="#111" stroke-width="1.3" />
<path d="M459.8,625.2 H493.6 C492.5,636 486,642.9 474.5,642.9 H462.6 Q459.8,642.9 459.8,640 Z" stroke="#111" stroke-width="1.8" fill="#fff" />
<line x1="498.9" y1="626.4" x2="498.9" y2="651.8" stroke="#111" stroke-width="1.7" />
<line x1="493.6" y1="625.4" x2="498.2" y2="625.4" stroke="#9a9a9a" stroke-width="0.75" />
<line x1="480" y1="651.3" x2="498.2" y2="651.3" stroke="#9a9a9a" stroke-width="0.75" />
<path d="M499.2,626.3 L505.4,628.8" stroke="#111" stroke-width="1.2" fill="none" />
<path d="M518,650.4 H501.5 L501.8,638 L508,626.2 H519.6 V643" stroke="#111" stroke-width="1.6" fill="none" />
<line x1="518.8" y1="642" x2="518.8" y2="689.5" stroke="#111" stroke-width="2.6" />
<path d="M502,628 C505,624.5 509,622.6 512.8,622.2 L513.4,625" stroke="#333" stroke-width="0.9" fill="none" stroke-dasharray="1.6 1.2"/>
<path d="M502.6,631 L505.4,647.6 L517.6,646.6 M515.2,627.4 L518.4,640" stroke="#333" stroke-width="0.9" fill="none" stroke-dasharray="1.6 1.2"/>
<path d="M519.6,641 L535.2,679 M521.2,641 L536.8,679" stroke="#333" stroke-width="0.9" fill="none" stroke-dasharray="1.5 1.2"/>
<line x1="535" y1="679.4" x2="537" y2="679.4" stroke="#555" stroke-width="1" />
<line x1="519.4" y1="689.6" x2="519.4" y2="702.2" stroke="#7e7e7e" stroke-width="0.9" />
<line x1="437.8" y1="701.8" x2="519.4" y2="701.8" stroke="#7e7e7e" stroke-width="0.9" />
<path d="M437.80,701.80 L442.80,700.90 L442.80,702.70 Z" fill="#444" stroke="none"/>
<path d="M519.40,701.80 L514.40,702.70 L514.40,700.90 Z" fill="#444" stroke="none"/>
<line x1="535.6" y1="680" x2="535.6" y2="723.6" stroke="#7e7e7e" stroke-width="0.9" />
<line x1="437.8" y1="722" x2="536.4" y2="722" stroke="#7e7e7e" stroke-width="0.9" />
<path d="M437.80,722.00 L442.80,721.10 L442.80,722.90 Z" fill="#444" stroke="none"/>
<path d="M535.60,722.00 L530.60,722.90 L530.60,721.10 Z" fill="#444" stroke="none"/>
<line x1="522.4" y1="733.3" x2="522.4" y2="754.5" stroke="#7e7e7e" stroke-width="0.9" />
<line x1="437.8" y1="753.9" x2="522.4" y2="753.9" stroke="#7e7e7e" stroke-width="0.9" />
<path d="M437.80,753.90 L442.80,753.00 L442.80,754.80 Z" fill="#444" stroke="none"/>
<path d="M522.40,753.90 L517.40,754.80 L517.40,753.00 Z" fill="#444" stroke="none"/>
<path d="M395.6,609.4 H422.5 L431,630" stroke="#555" stroke-width="0.9" fill="none" />
<line x1="406.3" y1="615.6" x2="437.5" y2="615.6" stroke="#7e7e7e" stroke-width="0.9" />
<line x1="406.3" y1="649.4" x2="437.5" y2="649.4" stroke="#7e7e7e" stroke-width="0.9" />
<line x1="407.3" y1="615.6" x2="407.3" y2="649.4" stroke="#7e7e7e" stroke-width="0.9" />
<g transform="translate(104.20,82.30)"><text transform="translate(0.00,0) scale(1.079,1)" font-family="'Liberation Serif', serif" font-size="13.68" font-weight="normal" fill="#111">115</text></g>
<g transform="translate(64.38,362.60)"><text transform="translate(0.00,0) scale(0.949,1)" font-family="'Liberation Serif', serif" font-size="14.86" font-weight="normal" fill="#111">900–1500</text></g>
<g transform="translate(234.78,336.75)"><text transform="translate(0.00,0) scale(0.859,1)" font-family="'Liberation Serif', serif" font-size="16.18" font-weight="normal" fill="#111" stroke="#111" stroke-width="0.17">113</text></g>
<g transform="translate(295.72,234.35)"><ellipse cx="3.13" cy="-5.46" rx="3.13" ry="4.09" fill="none" stroke="#111" stroke-width="1.05"/><line x1="1.60" y1="0.05" x2="4.65" y2="-10.97" stroke="#111" stroke-width="1.05"/><text transform="translate(7.78,0) scale(0.804,1)" font-family="'Liberation Serif', serif" font-size="16.14" font-weight="normal" fill="#111" stroke="#111" stroke-width="0.37">120</text></g>
<g transform="translate(205.90,602.12)"><text transform="translate(0.00,0) scale(0.831,1)" font-family="'Liberation Serif', serif" font-size="12.20" font-weight="bold" fill="#111" stroke="#111" stroke-width="0.54">150</text></g>
<g transform="translate(85.55,681.98)"><text transform="translate(0.00,0) scale(1.108,1)" font-family="'Liberation Serif', serif" font-size="13.68" font-weight="normal" fill="#111">175</text></g>
<g transform="translate(284.48,509.87)"><text transform="translate(0.00,0) scale(0.893,1)" font-family="'Liberation Serif', serif" font-size="11.58" font-weight="normal" fill="#111" stroke="#111" stroke-width="0.45">G1/2</text><line x1="21.69" y1="-6.93" x2="22.89" y2="-9.73" stroke="#111" stroke-width="1.2"/><line x1="23.59" y1="-6.93" x2="24.79" y2="-9.73" stroke="#111" stroke-width="1.2"/></g>
<g transform="translate(434.30,160.47) rotate(-90)"><ellipse cx="3.08" cy="-5.21" rx="3.08" ry="3.91" fill="none" stroke="#111" stroke-width="1.30"/><line x1="1.62" y1="0.05" x2="4.54" y2="-10.48" stroke="#111" stroke-width="1.30"/><text transform="translate(7.62,0) scale(0.753,1)" font-family="'Liberation Sans', sans-serif" font-size="14.56" font-weight="normal" fill="#111" stroke="#111" stroke-width="0.40">59</text></g>
<g transform="translate(565.98,186.47)"><text transform="translate(0.00,0) scale(0.959,1)" font-family="'Liberation Sans', sans-serif" font-size="13.37" font-weight="normal" fill="#111">350</text></g>
<g transform="translate(680.88,160.82) rotate(-3.3)"><ellipse cx="3.12" cy="-5.54" rx="3.12" ry="4.15" fill="none" stroke="#111" stroke-width="1.06"/><line x1="1.57" y1="0.06" x2="4.68" y2="-11.13" stroke="#111" stroke-width="1.06"/><text transform="translate(7.80,0) scale(0.792,1)" font-family="'Liberation Serif', serif" font-size="16.38" font-weight="normal" fill="#111" stroke="#111" stroke-width="0.38">228</text></g>
<g transform="translate(378.38,353.93)"><text transform="translate(0.00,0) scale(1.013,1)" font-family="'Liberation Serif', serif" font-size="14.20" font-weight="normal" fill="#111">885</text></g>
<g transform="translate(449.02,572.02)"><text transform="translate(0.00,0) scale(0.901,1)" font-family="'Liberation Serif', serif" font-size="11.62" font-weight="normal" fill="#111" stroke="#111" stroke-width="0.17">57</text></g>
<g transform="translate(394.90,604.87)"><text transform="translate(0.00,0) scale(0.873,1)" font-family="'Liberation Serif', serif" font-size="11.59" font-weight="normal" fill="#111" stroke="#111" stroke-width="0.46">G1/2</text><line x1="21.25" y1="-6.94" x2="22.45" y2="-9.74" stroke="#111" stroke-width="1.2"/><line x1="23.15" y1="-6.94" x2="24.35" y2="-9.74" stroke="#111" stroke-width="1.2"/></g>
<g transform="translate(405.52,647.32) rotate(-90)"><text transform="translate(0.00,0) scale(0.841,1)" font-family="'Liberation Serif', serif" font-size="12.15" font-weight="normal" fill="#111" stroke="#111" stroke-width="0.36">2–</text><ellipse cx="13.30" cy="-4.11" rx="3.08" ry="3.08" fill="none" stroke="#111" stroke-width="0.90"/><line x1="12.15" y1="0.04" x2="14.45" y2="-8.26" stroke="#111" stroke-width="0.90"/><text transform="translate(17.53,0) scale(0.841,1)" font-family="'Liberation Serif', serif" font-size="12.15" font-weight="normal" fill="#111" stroke="#111" stroke-width="0.36">60</text></g>
<g transform="translate(501.35,700.65)"><text transform="translate(0.00,0) scale(0.847,1)" font-family="'Liberation Serif', serif" font-size="11.33" font-weight="normal" fill="#111" stroke="#111" stroke-width="0.18">141</text></g>
<g transform="translate(479.72,720.40)"><text transform="translate(0.00,0) scale(0.796,1)" font-family="'Liberation Serif', serif" font-size="11.94" font-weight="normal" fill="#111" stroke="#111" stroke-width="0.19">171</text></g>
<g transform="translate(472.55,752.30)"><text transform="translate(0.00,0) scale(0.821,1)" font-family="'Liberation Serif', serif" font-size="12.21" font-weight="normal" fill="#111" stroke="#111" stroke-width="0.18">146</text></g>
</svg>
</body></html>
